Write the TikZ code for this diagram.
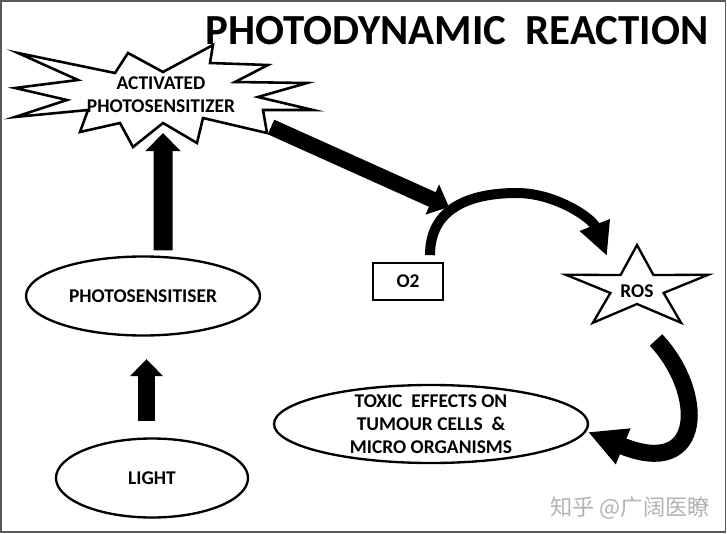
\documentclass[tikz,border=0pt]{standalone}
\usepackage{fontspec}
\setmainfont{Carlito}
\newfontfamily\cjkfont{Noto Sans CJK SC}
\usetikzlibrary{positioning, shapes.geometric, arrows.meta}

\begin{document}
\begin{tikzpicture}[x=0.03cm, y=-0.03cm,
		txt/.style={font=\bfseries\fontsize{16.6}{19.8}\selectfont},
		oval/.style={ellipse, draw, line width=2pt, inner sep=0pt, txt},
		fatarrow/.style n args={3}{line width=#1, -{Triangle[length=#2, width=#3]}}]
		\def\RosX{637} % środek gwiazdy ROS
		\def\RosY{288}
		
		\useasboundingbox (0,0) rectangle (727,534);
		\draw[black!65, line width=1.2pt] (1,1) rectangle (725.5,532);
		
		% Tytuł
		\node[font=\bfseries\fontsize{36.6}{40}\selectfont] (title) at (457,31) {PHOTODYNAMIC\ \ REACTION};
		
		% --- Aktywowany fotouczulacz (wybuch) ---
		\draw[line width=2.2pt, fill=white] (18,53) -- (115,73) -- (128,53) -- (163,72) -- (213,45) -- (210,63)
			-- (268,65) -- (235,82) -- (307,83) -- (258,97) -- (313,110) -- (263,110) -- (267,133)
			-- (203,118) -- (197,143) -- (163,123) -- (133,147) -- (120,123) -- (80,132) -- (88,110)
			-- (15,117) -- (67,100) -- (15,88) -- (78,80) -- cycle;
		\node[txt, align=center] (act) at (161,95) {ACTIVATED\\PHOTOSENSITIZER};
		
		% Elipsy
		\node[oval, minimum width=7.02cm, minimum height=2.37cm] (psens) at (143,296) {PHOTOSENSITISER};
		\node[oval, minimum width=5.76cm, minimum height=2.37cm] (light) at (152,478) {LIGHT};
		\node[oval, minimum width=9.42cm, minimum height=2.34cm,
			label={[txt, align=center]center:{TOXIC\ \ EFFECTS ON\\TUMOUR CELLS\ \ \&\\MICRO ORGANISMS}}] (toxic) at (431,424) {};
		
		% Tlen
		\node[draw, line width=2pt, minimum width=2.1cm, minimum height=1.11cm, txt] (o2) at (408,281.5) {O2};
		
		% Gwiazda ROS
		\draw[line width=2pt] plot[samples at={0,...,9}, variable=\k]
			({\RosX + ifthenelse(mod(\k,2)==0, 75, 28)*cos(90+36*\k)},
			 {\RosY - ifthenelse(mod(\k,2)==0, 43, 16)*sin(90+36*\k)}) -- cycle;
		\node[txt] (ros) at (637,291) {ROS};
		
		% --- Strzałki ---
		\coordinate (act-in) at (163,133);
		\coordinate (psens-in) at ([xshift=0.105cm, yshift=-0.675cm]psens.south);
		\coordinate (burst-out) at (271,127);
		\coordinate (arc-in) at (449,207);
		\coordinate (ros-in) at (607,256);
		\coordinate (ros-out) at (656,340);
		\coordinate (toxic-in) at (588,432);
		
		\draw[fatarrow={0.51cm}{0.51cm}{0.96cm}] ([xshift=-0.165cm, yshift=0.5cm]light.north) -- (psens-in);
		\draw[fatarrow={0.57cm}{0.54cm}{1.02cm}] ([xshift=0.6cm, yshift=0.15cm]psens.north) -- (act-in);
		\draw[fatarrow={0.48cm}{0.55cm}{0.96cm}] (burst-out) -- (arc-in);
		
		% Łuk O2 -> ROS
		\draw[fatarrow={0.3cm}{1.0cm}{0.9cm}] ([xshift=0.66cm, yshift=0.2cm]o2.north)
			.. controls (430,205) and (475,193) .. (517,193)
			.. controls (555,193) and (592,218) .. (ros-in);
		
		% Łuk ROS -> efekty toksyczne
		\draw[fatarrow={0.51cm}{1.14cm}{1.08cm}] (ros-out) .. controls (705,392) and (705,480) .. (toxic-in);
		
		% Znak wodny
		\node[font=\cjkfont\fontsize{19}{19}\selectfont, text=black!30] (mark) at (630,508) {知乎 @广阔医瞭};
		
	\end{tikzpicture}
\end{document}
